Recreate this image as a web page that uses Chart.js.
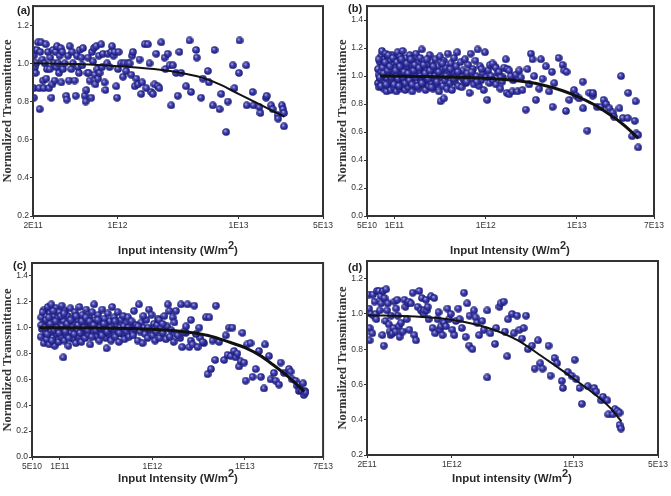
<!DOCTYPE html>
<html>
<head>
<meta charset="utf-8">
<script src="https://cdn.jsdelivr.net/npm/chart.js@4"></script>
<style>
body{margin:0;background:#fff;}
#wrap{position:relative;width:671px;height:496px;overflow:hidden;}
canvas{position:absolute;}
.lab{position:absolute;font:bold 11px "Liberation Sans",Arial,sans-serif;color:#222;line-height:13px;}
.xt{position:absolute;width:260px;text-align:center;white-space:nowrap;font:bold 11.5px "Liberation Sans",Arial,sans-serif;color:#2a2a2a;line-height:14px;}
.xt sup{font-size:11px;line-height:0;vertical-align:baseline;position:relative;top:-5px;}
</style>
</head>
<body>
<div id="wrap">
  <canvas id="ca" width="335" height="250" style="left:0;top:0"></canvas>
  <canvas id="cb" width="336" height="250" style="left:335px;top:0"></canvas>
  <canvas id="cc" width="335" height="246" style="left:0;top:250px"></canvas>
  <canvas id="cd" width="336" height="246" style="left:335px;top:250px"></canvas>
  <div class="lab" style="left:17px;top:4px">(a)</div>
  <div class="lab" style="left:348px;top:2px">(b)</div>
  <div class="lab" style="left:13px;top:259px">(c)</div>
  <div class="lab" style="left:348px;top:261px">(d)</div>
  <div class="xt" style="left:48px;top:243px">Input intensity (W/m<sup>2</sup>)</div>
  <div class="xt" style="left:380px;top:243px">Input Intensity (W/m<sup>2</sup>)</div>
  <div class="xt" style="left:48px;top:471px">Input Intensity (W/m<sup>2</sup>)</div>
  <div class="xt" style="left:382px;top:471px">Input intensity (W/m<sup>2</sup>)</div>
</div>
<script>
// axis ticks
const xTicksAD = [2e11, 1e12, 1e13, 5e13];
const xLabelsAD = ['2E11', '1E12', '1E13', '5E13'];
const xTicksBC = [5e10, 1e11, 1e12, 1e13, 7e13];
const xLabelsBC = ['5E10', '1E11', '1E12', '1E13', '7E13'];
const yTicksAD = [0.2, 0.4, 0.6, 0.8, 1.0, 1.2];
const yLabelsAD = ['0.2', '0.4', '0.6', '0.8', '1.0', '1.2'];
const yTicksBC = [0, 0.2, 0.4, 0.6, 0.8, 1.0, 1.2, 1.4];
const yLabelsBC = ['0.0', '0.2', '0.4', '0.6', '0.8', '1.0', '1.2', '1.4'];

// (a) measured points [intensity, normalized T]
const aPts = [[2.03e11,1.07],[2.03e11,1.04],[2.03e11,0.97],[2.03e11,0.87],[2.03e11,0.82],[2.06e11,0.98],[2.1e11,0.95],[2.13e11,1.00],[2.16e11,1.07],[2.2e11,1.11],[2.25e11,0.87],[2.27e11,0.76],[2.3e11,1.06],[2.34e11,1.11],[2.39e11,1.02],[2.42e11,0.91],[2.45e11,0.87],[2.5e11,1.00],[2.55e11,1.10],[2.58e11,0.92],[2.61e11,0.97],[2.66e11,1.06],[2.71e11,0.87],[2.75e11,0.97],[2.78e11,1.03],[2.84e11,0.82],[2.89e11,0.89],[2.93e11,1.07],[2.99e11,1.00],[3.02e11,0.91],[3.08e11,1.06],[3.12e11,0.98],[3.16e11,1.09],[3.22e11,1.00],[3.28e11,0.95],[3.32e11,1.04],[3.39e11,1.08],[3.43e11,0.90],[3.5e11,1.06],[3.54e11,0.97],[3.66e11,1.00],[3.77e11,0.83],[3.8e11,0.81],[3.89e11,1.04],[3.96e11,0.91],[4.02e11,1.09],[4.15e11,0.97],[4.23e11,1.06],[4.28e11,1.00],[4.42e11,0.91],[4.51e11,0.83],[4.62e11,1.04],[4.71e11,0.98],[4.8e11,0.95],[4.86e11,1.07],[5.02e11,1.03],[5.12e11,0.99],[5.18e11,1.08],[5.35e11,0.83],[5.45e11,0.80],[5.52e11,0.86],[5.64e11,0.95],[5.7e11,1.03],[5.77e11,0.95],[5.88e11,0.91],[6.07e11,0.82],[6.15e11,1.06],[6.27e11,1.01],[6.38e11,1.08],[6.47e11,0.94],[6.56e11,0.89],[6.68e11,1.09],[6.82e11,0.97],[6.9e11,0.92],[7.0e11,1.04],[7.11e11,0.95],[7.33e11,1.10],[7.45e11,0.98],[7.58e11,1.05],[7.82e11,0.90],[7.95e11,0.86],[8.2e11,1.00],[8.33e11,1.05],[8.6e11,0.98],[8.88e11,1.06],[9.0e11,1.09],[9.27e11,1.04],[9.45e11,1.06],[9.76e11,0.88],[9.9e11,0.82],[1.01e12,0.97],[1.02e12,1.06],[1.07e12,1.00],[1.11e12,0.93],[1.14e12,1.00],[1.18e12,0.96],[1.22e12,1.00],[1.26e12,1.00],[1.30e12,0.94],[1.32e12,1.04],[1.34e12,1.06],[1.39e12,0.88],[1.43e12,0.92],[1.48e12,0.89],[1.52e12,1.02],[1.57e12,0.84],[1.6e12,0.90],[1.68e12,1.10],[1.73e12,0.87],[1.78e12,1.10],[1.84e12,1.00],[1.9e12,0.85],[1.96e12,0.84],[2.02e12,0.89],[2.09e12,1.05],[2.15e12,0.88],[2.22e12,0.87],[2.3e12,1.11],[2.45e12,1.03],[2.49e12,0.97],[2.6e12,1.05],[2.69e12,0.99],[2.78e12,0.78],[2.87e12,0.99],[3.05e12,0.95],[3.15e12,0.83],[3.25e12,1.06],[3.36e12,0.95],[3.69e12,0.88],[3.94e12,1.12],[4.06e12,0.85],[4.47e12,1.07],[4.52e12,1.03],[4.91e12,0.82],[5.07e12,0.92],[5.58e12,0.96],[5.7e12,0.90],[6.14e12,0.78],[6.34e12,1.07],[6.97e12,0.76],[7.2e12,0.84],[7.91e12,0.64],[8.17e12,0.80],[8.98e12,0.99],[9.27e12,0.87],[1.01e13,0.95],[1.02e13,1.12],[1.16e13,0.99],[1.17e13,0.78],[1.31e13,0.85],[1.33e13,0.78],[1.49e13,0.77],[1.52e13,0.74],[1.69e13,0.82],[1.71e13,0.83],[1.86e13,0.78],[1.92e13,0.76],[2.11e13,0.73],[2.13e13,0.71],[2.29e13,0.78],[2.34e13,0.76],[2.38e13,0.74],[2.38e13,0.67]];
const aFitX = [2e11, 5e11, 1e12, 2e12, 3e12, 5e12, 7e12, 1e13, 1.5e13, 2e13, 2.4e13];
const aFitY = [1.0, 0.995, 0.985, 0.97, 0.955, 0.925, 0.89, 0.84, 0.785, 0.745, 0.72];

// (b)
const bPts = [[0.66e11,1.05],[0.66e11,0.95],[0.67e11,1.01],[0.68e11,0.92],[0.69e11,1.10],[0.70e11,0.98],[0.71e11,1.14],[0.72e11,1.03],[0.72e11,0.94],[0.73e11,1.18],[0.74e11,0.97],[0.75e11,1.07],[0.76e11,0.91],[0.77e11,1.12],[0.78e11,1.00],[0.79e11,0.95],[0.80e11,1.16],[0.81e11,1.04],[0.82e11,0.89],[0.83e11,1.09],[0.84e11,0.98],[0.85e11,1.13],[0.86e11,0.93],[0.87e11,1.06],[0.88e11,1.01],[0.89e11,0.96],[0.90e11,1.11],[0.91e11,0.90],[0.93e11,1.03],[0.94e11,1.15],[0.95e11,0.97],[0.97e11,1.08],[0.98e11,0.92],[1.0e11,1.02],[1.01e11,1.12],[1.02e11,0.95],[1.04e11,1.06],[1.05e11,0.89],[1.07e11,1.00],[1.08e11,1.17],[1.10e11,0.94],[1.11e11,1.09],[1.13e11,1.03],[1.14e11,0.91],[1.16e11,1.14],[1.18e11,0.98],[1.20e11,1.05],[1.22e11,0.93],[1.23e11,1.18],[1.25e11,1.01],[1.27e11,0.96],[1.29e11,1.10],[1.31e11,0.90],[1.33e11,1.04],[1.35e11,1.13],[1.37e11,0.97],[1.40e11,1.07],[1.42e11,0.92],[1.44e11,1.00],[1.47e11,1.15],[1.49e11,0.95],[1.52e11,1.08],[1.55e11,1.02],[1.57e11,0.89],[1.60e11,1.11],[1.63e11,0.98],[1.66e11,1.05],[1.69e11,0.93],[1.72e11,1.16],[1.75e11,1.01],[1.78e11,0.96],[1.81e11,1.09],[1.85e11,0.91],[1.88e11,1.03],[1.92e11,1.13],[1.95e11,0.97],[1.99e11,1.19],[2.03e11,1.06],[2.07e11,0.94],[2.11e11,1.00],[2.15e11,1.11],[2.19e11,0.90],[2.24e11,1.04],[2.28e11,0.97],[2.33e11,1.08],[2.38e11,0.93],[2.43e11,1.15],[2.48e11,1.01],[2.53e11,0.95],[2.58e11,1.10],[2.64e11,0.91],[2.70e11,1.05],[2.76e11,0.98],[2.82e11,1.12],[2.88e11,0.94],[2.95e11,1.02],[3.02e11,1.07],[3.09e11,0.89],[3.16e11,1.14],[3.20e11,0.82],[3.24e11,0.99],[3.32e11,1.04],[3.40e11,0.93],[3.48e11,0.84],[3.48e11,1.11],[3.57e11,0.97],[3.66e11,1.06],[3.75e11,0.91],[3.85e11,1.16],[3.95e11,1.01],[4.05e11,0.95],[4.16e11,1.09],[4.27e11,0.90],[4.38e11,1.03],[4.50e11,1.13],[4.62e11,0.96],[4.75e11,1.07],[4.88e11,1.17],[5.01e11,0.93],[5.15e11,1.00],[5.30e11,1.10],[5.45e11,0.92],[5.60e11,1.04],[5.76e11,0.97],[5.93e11,1.12],[6.10e11,0.95],[6.28e11,1.02],[6.46e11,1.08],[6.65e11,0.88],[6.84e11,1.16],[7.05e11,0.98],[7.26e11,1.05],[7.48e11,0.94],[7.70e11,1.11],[7.93e11,1.00],[8.17e11,1.19],[8.42e11,0.93],[8.68e11,1.07],[8.95e11,0.97],[9.23e11,1.02],[9.52e11,0.90],[9.82e11,1.17],[1.01e12,0.99],[1.04e12,0.83],[1.07e12,1.04],[1.10e12,0.95],
[0.67e11,1.12],[0.69e11,0.99],[0.71e11,0.93],[0.74e11,1.06],[0.76e11,1.02],[0.79e11,1.10],[0.81e11,0.94],[0.84e11,1.04],[0.86e11,1.15],[0.89e11,1.07],[0.92e11,0.99],[0.96e11,1.13],[0.99e11,0.94],[1.03e11,1.04],[1.06e11,1.10],[1.09e11,0.98],[1.12e11,0.93],[1.15e11,1.07],[1.19e11,1.12],[1.24e11,0.99],[1.28e11,1.03],[1.32e11,0.95],[1.36e11,1.09],[1.41e11,1.02],[1.46e11,0.97],[1.51e11,1.12],[1.56e11,0.94],[1.62e11,1.04],[1.67e11,1.08],[1.73e11,0.99],[1.79e11,0.93],[1.86e11,1.06],[1.93e11,1.00],[2.00e11,0.95],[2.09e11,1.08],[2.17e11,1.02],[2.26e11,1.12],[2.35e11,0.98],[2.45e11,1.04],[2.55e11,0.92],[2.67e11,1.07],[2.79e11,1.00],[2.92e11,0.96],[3.05e11,1.03],[3.36e11,1.09],[3.70e11,1.00],[4.10e11,1.05],[4.45e11,0.98],[4.95e11,1.03],[5.50e11,0.99],[6.20e11,0.96],[7.00e11,1.03],[8.00e11,0.96],[9.00e11,1.05],
[1.12e12,1.08],[1.15e12,1.00],[1.2e12,0.97],[1.25e12,1.07],[1.3e12,0.94],[1.35e12,1.02],[1.45e12,0.91],[1.55e12,0.99],[1.7e12,0.88],[2.0e12,0.97],
[1.19e12,1.09],[1.29e12,1.06],[1.40e12,1.03],[1.46e12,0.99],[1.52e12,0.96],[1.59e12,1.06],[1.66e12,1.12],[1.73e12,1.05],[1.81e12,1.04],[1.81e12,0.87],[1.88e12,1.00],[1.96e12,0.89],[2.14e12,1.01],[2.23e12,0.89],[2.33e12,1.04],[2.43e12,0.99],[2.53e12,0.90],[2.75e12,0.76],[2.87e12,1.05],[3.0e12,0.94],[3.13e12,1.16],[3.26e12,1.12],[3.40e12,1.00],[3.55e12,0.83],[3.86e12,0.91],[4.03e12,1.12],[4.20e12,0.98],[4.57e12,1.07],[4.97e12,0.89],[5.32e12,1.03],[5.41e12,0.78],[5.65e12,0.95],[6.30e12,1.13],[6.97e12,1.08],[7.27e12,1.04],[7.70e12,1.03],[7.59e12,0.75],[8.26e12,0.83],[9.3e12,0.90],[9.8e12,0.86],[1.06e13,0.84],[1.16e13,0.96],[1.17e13,0.77],[1.30e13,0.61],[1.37e13,0.88],[1.49e13,0.86],[1.50e13,0.88],[1.66e13,0.78],[1.84e13,0.78],[1.96e13,0.83],[2.10e13,0.80],[2.27e13,0.77],[2.47e13,0.74],[2.55e13,0.71],[2.93e13,0.77],[3.05e13,1.00],[3.19e13,0.70],[3.60e13,0.70],[3.65e13,0.88],[4.04e13,0.57],[4.3e13,0.68],[4.4e13,0.82],[4.47e13,0.59],[4.7e13,0.58],[4.7e13,0.49]];
const bFitX = [7e10, 3e11, 1e12, 2e12, 4e12, 7e12, 1e13, 1.5e13, 2e13, 3e13, 4e13, 4.7e13];
const bFitY = [1.0, 0.995, 0.985, 0.97, 0.94, 0.895, 0.855, 0.80, 0.75, 0.67, 0.60, 0.555];

// (c)
const cPts = [[0.62e11,0.93],[0.63e11,1.08],[0.64e11,0.99],[0.66e11,1.03],[0.67e11,0.88],[0.68e11,1.14],[0.70e11,0.96],[0.71e11,1.06],[0.72e11,0.91],[0.74e11,1.16],[0.75e11,1.01],[0.77e11,0.87],[0.78e11,1.11],[0.80e11,0.97],[0.81e11,1.18],[0.83e11,1.04],[0.84e11,0.92],[0.86e11,1.09],[0.88e11,0.86],[0.89e11,1.00],[0.91e11,1.15],[0.93e11,0.95],[0.95e11,1.07],[0.97e11,0.89],[0.99e11,1.12],[1.01e11,1.02],[1.03e11,0.93],[1.05e11,1.17],[1.07e11,0.98],[1.09e11,0.77],[1.10e11,1.05],[1.12e11,0.90],[1.14e11,1.13],[1.17e11,1.00],[1.19e11,0.94],[1.22e11,1.09],[1.24e11,0.86],[1.27e11,1.03],[1.30e11,1.15],[1.33e11,0.96],[1.36e11,1.07],[1.39e11,0.91],[1.42e11,1.01],[1.45e11,1.12],[1.49e11,0.88],[1.52e11,0.98],[1.56e11,1.06],[1.59e11,0.93],[1.63e11,1.16],[1.67e11,1.02],[1.71e11,0.89],[1.75e11,1.10],[1.79e11,0.97],[1.84e11,1.04],[1.88e11,0.92],[1.93e11,1.14],[1.98e11,1.00],[2.03e11,0.95],[2.08e11,1.08],[2.13e11,0.87],[2.18e11,1.03],[2.24e11,1.12],[2.29e11,0.97],[2.35e11,1.18],[2.41e11,1.06],[2.47e11,0.93],[2.54e11,1.01],[2.60e11,1.10],[2.67e11,0.90],[2.74e11,1.04],[2.81e11,0.96],[2.88e11,1.14],[2.96e11,0.99],[3.04e11,1.07],[3.12e11,0.92],[3.20e11,0.84],[3.21e11,1.02],[3.30e11,1.11],[3.39e11,0.95],[3.48e11,1.05],[3.58e11,0.90],[3.68e11,1.16],[3.78e11,0.98],[3.88e11,1.08],[3.99e11,0.93],[4.10e11,1.02],[4.22e11,1.12],[4.34e11,0.89],[4.46e11,1.00],[4.59e11,1.06],[4.72e11,0.95],[4.86e11,1.09],[5.00e11,0.91],[5.15e11,1.03],[5.30e11,0.97],[5.46e11,1.08],[5.62e11,0.93],[5.79e11,1.01],[5.96e11,1.05],[6.14e11,0.96],[6.33e11,1.13],[6.52e11,0.99],[6.72e11,1.02],[6.93e11,0.90],[7.15e11,1.18],[7.37e11,0.97],[7.60e11,1.04],[7.84e11,0.88],[8.09e11,1.00],[8.35e11,0.95],[8.62e11,1.06],[8.90e11,0.92],[9.19e11,1.14],[9.49e11,0.98],[9.80e11,1.10],[1.01e12,0.94],[1.04e12,1.03],[1.07e12,0.90],[1.10e12,0.97],[1.13e12,1.02],
[0.63e11,1.02],[0.65e11,1.12],[0.69e11,1.00],[0.73e11,0.95],[0.76e11,1.08],[0.79e11,1.03],[0.82e11,0.90],[0.85e11,1.13],[0.87e11,0.98],[0.90e11,1.05],[0.94e11,1.00],[0.98e11,0.96],[1.02e11,1.09],[1.06e11,1.01],[1.11e11,1.11],[1.15e11,0.97],[1.20e11,1.03],[1.25e11,0.92],[1.31e11,1.06],[1.37e11,1.00],[1.43e11,0.95],[1.50e11,1.09],[1.57e11,1.02],[1.65e11,0.96],[1.73e11,1.05],[1.82e11,1.00],[1.91e11,1.08],[2.00e11,0.98],[2.10e11,1.05],[2.21e11,0.93],[2.32e11,1.02],[2.44e11,0.98],[2.57e11,1.06],[2.71e11,1.00],[2.85e11,0.94],[3.00e11,1.03],[3.25e11,0.97],[3.55e11,1.00],[3.95e11,1.05],[4.40e11,0.96],[4.90e11,1.01],[5.50e11,1.00],[6.20e11,0.94],[7.00e11,1.01],[8.00e11,1.09],[9.00e11,1.00],
[1.15e12,1.07],[1.2e12,0.92],[1.25e12,1.00],[1.3e12,0.96],[1.4e12,0.91],[1.45e12,1.01],[1.55e12,0.93],[1.6e12,0.98],[1.7e12,0.89],[1.85e12,0.95],[2.0e12,0.92],[2.3e12,0.96],[2.6e12,0.90],[3.3e12,0.92],[3.6e12,0.88],
[1.19e12,1.06],[1.29e12,1.03],[1.35e12,1.09],[1.47e12,1.18],[1.53e12,1.13],[1.66e12,1.08],[1.73e12,1.04],[1.80e12,1.13],[1.88e12,0.94],[2.04e12,1.18],[2.1e12,0.85],[2.21e12,0.97],[2.31e12,1.01],[2.40e12,1.18],[2.51e12,0.85],[2.61e12,1.06],[2.72e12,0.87],[2.84e12,1.17],[2.96e12,0.95],[3.08e12,0.85],[3.21e12,1.00],[3.49e12,0.89],[3.79e12,1.08],[3.95e12,0.64],[4.12e12,1.08],[4.30e12,0.68],[4.47e12,0.90],[4.78e12,0.75],[4.86e12,1.17],[5.27e12,0.89],[5.97e12,0.75],[6.22e12,0.94],[6.49e12,0.79],[6.76e12,1.00],[7.04e12,0.78],[7.34e12,1.00],[7.65e12,0.82],[7.97e12,0.77],[8.3e12,0.80],[8.66e12,0.70],[9.0e12,0.74],[9.4e12,0.96],[9.8e12,0.73],[1.02e13,0.59],[1.06e13,0.87],[1.15e13,0.88],[1.21e13,0.62],[1.31e13,0.68],[1.42e13,0.82],[1.49e13,0.62],[1.61e13,0.53],[1.65e13,0.87],[1.82e13,0.78],[1.90e13,0.60],[2.06e13,0.65],[2.15e13,0.59],[2.34e13,0.56],[2.44e13,0.73],[2.65e13,0.65],[2.99e13,0.68],[3.12e13,0.66],[3.25e13,0.60],[3.53e13,0.59],[3.68e13,0.55],[3.84e13,0.56],[3.84e13,0.51],[4.0e13,0.52],[4.17e13,0.51],[4.26e13,0.57],[4.34e13,0.48],[4.45e13,0.51],[4.52e13,0.50]];
const cFitX = [6e10, 3e11, 1e12, 2e12, 4e12, 7e12, 1e13, 1.5e13, 2e13, 3e13, 4.4e13];
const cFitY = [1.0, 0.997, 0.987, 0.973, 0.94, 0.885, 0.845, 0.78, 0.715, 0.615, 0.505];

// (d)
const dPts = [[2.07e11,1.11],[2.08e11,1.03],[2.1e11,0.92],[2.1e11,0.85],[2.17e11,1.00],[2.21e11,0.89],[2.24e11,1.11],[2.27e11,0.99],[2.31e11,1.07],[2.36e11,1.00],[2.39e11,0.97],[2.42e11,1.13],[2.51e11,1.13],[2.55e11,1.02],[2.59e11,1.10],[2.62e11,1.06],[2.68e11,0.88],[2.71e11,1.13],[2.75e11,0.82],[2.79e11,1.09],[2.84e11,0.96],[2.88e11,1.14],[2.93e11,1.02],[2.97e11,1.06],[3.03e11,0.94],[3.07e11,0.90],[3.13e11,0.88],[3.16e11,0.99],[3.23e11,0.89],[3.31e11,0.92],[3.37e11,1.07],[3.44e11,0.90],[3.48e11,1.03],[3.55e11,1.08],[3.59e11,0.99],[3.66e11,0.93],[3.71e11,0.87],[3.82e11,0.95],[3.94e11,0.90],[4.07e11,1.08],[4.15e11,1.04],[4.25e11,0.97],[4.33e11,1.06],[4.41e11,1.07],[4.47e11,0.91],[4.61e11,1.06],[4.76e11,1.12],[4.91e11,0.88],[5.07e11,0.85],[5.23e11,1.04],[5.4e11,1.13],[5.57e11,1.02],[5.67e11,1.09],[5.75e11,1.01],[5.86e11,1.00],[5.93e11,1.02],[6.12e11,1.08],[6.2e11,1.02],[6.32e11,1.04],[6.44e11,0.97],[6.73e11,1.10],[6.94e11,0.92],[7.16e11,1.09],[7.3e11,0.89],[7.63e11,0.97],[7.77e11,1.01],[7.97e11,0.91],[8.12e11,0.93],[8.38e11,0.88],[8.65e11,0.95],[8.93e11,0.93],[9.21e11,1.03],[9.5e11,0.97],[9.81e11,1.00],[1.01e12,0.91],[1.05e12,0.88],[1.08e12,0.96],[1.13e12,1.03],[1.16e12,0.97],[1.21e12,0.92],[1.26e12,1.12],[1.30e12,0.87],[1.34e12,1.06],[1.39e12,0.82],[1.40e12,0.99],[1.48e12,0.80],[1.52e12,1.02],[1.57e12,0.98],[1.62e12,0.95],[1.68e12,0.88],[1.78e12,0.96],[1.84e12,0.91],[1.96e12,0.64],[1.96e12,1.02],[2.08e12,0.89],[2.27e12,0.83],[2.32e12,0.92],[2.47e12,1.04],[2.52e12,1.06],[2.68e12,1.07],[2.74e12,0.90],[2.86e12,0.76],[2.91e12,0.97],[3.14e12,1.00],[3.24e12,0.89],[3.45e12,0.99],[3.61e12,0.91],[3.79e12,0.86],[3.91e12,0.92],[4.09e12,0.99],[4.24e12,0.80],[4.58e12,0.82],[4.82e12,0.69],[5.13e12,0.85],[5.36e12,0.72],[5.6e12,0.69],[6.27e12,0.82],[6.51e12,0.65],[7.02e12,0.75],[7.37e12,0.72],[8.06e12,0.62],[8.23e12,0.58],[9.03e12,0.67],[9.69e12,0.65],[1.03e13,0.74],[1.06e13,0.63],[1.13e13,0.58],[1.18e13,0.49],[1.32e13,0.59],[1.49e13,0.58],[1.55e13,0.56],[1.70e13,0.51],[1.76e13,0.53],[1.91e13,0.51],[1.95e13,0.43],[2.12e13,0.43],[2.21e13,0.46],[2.32e13,0.45],[2.41e13,0.44],[2.41e13,0.37],[2.48e13,0.35]];
const dFitX = [2e11, 5e11, 1e12, 2e12, 3.5e12, 5e12, 7e12, 1e13, 1.5e13, 2e13, 2.5e13];
const dFitY = [0.993, 0.985, 0.967, 0.92, 0.85, 0.78, 0.71, 0.635, 0.545, 0.47, 0.39];

// shaded ball marker
function makeBall(){
  const c = document.createElement('canvas');
  c.width = 8; c.height = 8;
  const g = c.getContext('2d');
  const gr = g.createRadialGradient(3, 2.8, 0.3, 4, 4, 4);
  gr.addColorStop(0, '#b8b8ee');
  gr.addColorStop(0.3, '#4a4ab4');
  gr.addColorStop(0.75, '#24248f');
  gr.addColorStop(1, '#151560');
  g.fillStyle = gr;
  g.beginPath(); g.arc(4, 4, 3.8, 0, Math.PI * 2); g.fill();
  return c;
}
const ball = makeBall();

// box around plot area
const frame = {
  id: 'frame',
  afterDatasetsDraw(chart){
    const {ctx, chartArea: a} = chart;
    ctx.save();
    ctx.strokeStyle = '#333'; ctx.lineWidth = 2;
    ctx.strokeRect(a.left, a.top, a.right - a.left, a.bottom - a.top);
    ctx.restore();
  }
};

const tickFont = {family: 'Liberation Sans', size: 8.5};

function panel(id, pts, fitX, fitY, xt, xl, yt, yl, xr, yr, box, lw){
  new Chart(document.getElementById(id), {
    type: 'scatter',
    data: { datasets: [
      { data: fitX.map((x, i) => ({x, y: fitY[i]})), showLine: true, pointRadius: 0,
        borderColor: '#111', borderWidth: lw, tension: 0.4, cubicInterpolationMode: 'monotone' },
      { data: pts.map(p => ({x: p[0], y: p[1]})), pointStyle: ball, pointRadius: 3.5, pointHoverRadius: 3.5 }
    ]},
    options: {
      responsive: false, animation: false, events: [],
      plugins: { legend: {display: false}, tooltip: {enabled: false} },
      layout: { padding: {left: 0, right: box.r, top: box.t, bottom: 0} },
      scales: {
        x: { type: 'logarithmic', min: xr[0], max: xr[1],
          afterBuildTicks: s => { s.ticks = xt.map(v => ({value: v})); },
          afterFit: s => { s.height = box.xh; },
          ticks: { callback: (v, i) => xl[i], autoSkip: false, maxRotation: 0, font: tickFont, color: '#333', padding: 2 },
          grid: { drawOnChartArea: false, tickLength: 3, color: '#333' },
          border: { color: '#333', width: 2 } },
        y: { min: yr[0], max: yr[1],
          afterBuildTicks: s => { s.ticks = yt.map(v => ({value: v})); },
          afterFit: s => { s.width = box.yw; },
          title: { display: true, text: 'Normalized Transmittance', color: '#333', padding: 0,
            font: {family: 'Liberation Serif', size: 12.5, weight: 'bold'} },
          ticks: { callback: (v, i) => yl[i], font: tickFont, color: '#333', padding: 1 },
          grid: { drawOnChartArea: false, tickLength: 3, color: '#333' },
          border: { color: '#333', width: 2 } }
      }
    },
    plugins: [frame]
  });
}

panel('ca', aPts, aFitX, aFitY, xTicksAD, xLabelsAD, yTicksAD, yLabelsAD, [2e11, 5e13], [0.2, 1.3], {yw: 33, r: 12, t: 3, xh: 34}, 2);
panel('cb', bPts, bFitX, bFitY, xTicksBC, xLabelsBC, yTicksBC, yLabelsBC, [5e10, 7e13], [0, 1.5], {yw: 32, r: 17, t: 4, xh: 34}, 3);
panel('cc', cPts, cFitX, cFitY, xTicksBC, xLabelsBC, yTicksBC, yLabelsBC, [5e10, 7e13], [0, 1.5], {yw: 32, r: 11, t: 13, xh: 39}, 3);
panel('cd', dPts, dFitX, dFitY, xTicksAD, xLabelsAD, yTicksAD, yLabelsAD, [2e11, 5e13], [0.2, 1.3], {yw: 32, r: 13, t: 11, xh: 41}, 2);
</script>
</body>
</html>
